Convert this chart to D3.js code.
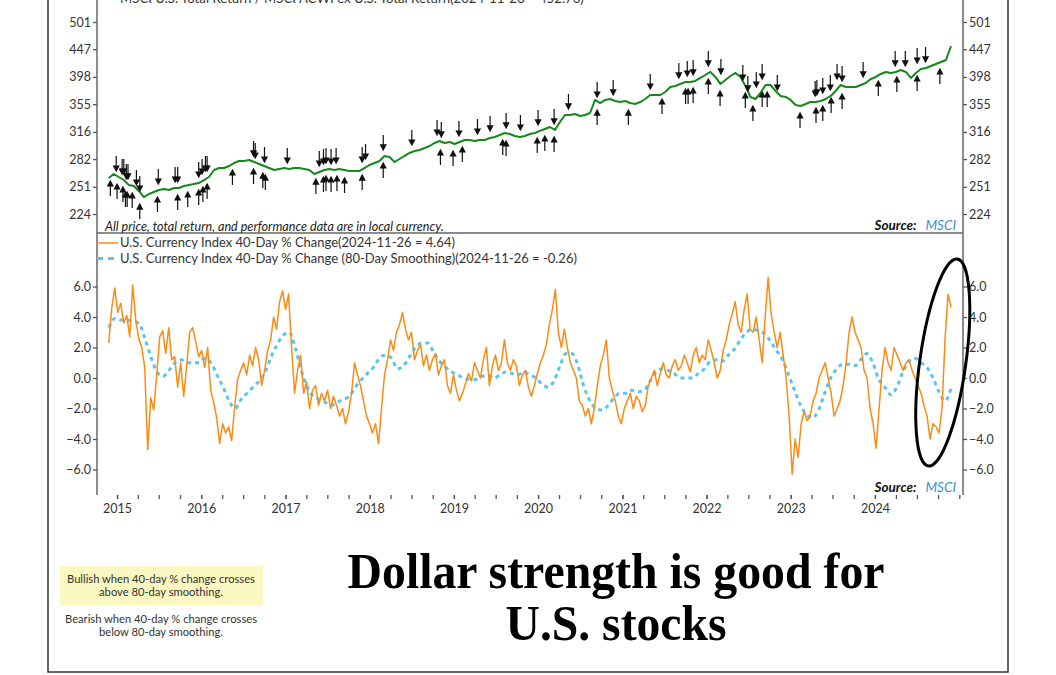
<!DOCTYPE html>
<html>
<head>
<meta charset="utf-8">
<script src="https://cdn.jsdelivr.net/npm/d3@7"></script>
<style>
  body { margin: 0; background: #fff; }
  text { font-family: Lato, 'Open Sans', sans-serif; }
</style>
</head>
<body>
<script>
// series run evenly from seriesStart to seriesEnd
var seriesStart = '2014-11-26';
var seriesEnd = '2024-11-26';

var relativeReturn = [
  260.5,264.9,261.6,258.3,253.0,251.9,246.7,240.5,243.6,245.6,247.7,248.8,247.7,249.8,249.8,251.9,253.0,254.0,255.1,258.3,
  261.6,269.4,271.6,271.6,273.9,277.4,279.7,279.7,280.9,278.6,276.2,273.9,271.6,269.4,270.5,271.6,270.5,271.6,271.6,270.5,
  269.4,264.9,267.1,269.4,270.5,269.4,270.5,269.4,268.3,268.3,268.3,271.6,275.1,277.4,279.7,285.7,284.5,278.6,282.1,285.7,
  289.3,291.7,293.0,295.4,297.9,301.7,304.2,301.7,302.9,300.4,302.9,305.5,305.5,304.2,305.5,305.5,308.1,309.4,312.0,314.6,
  313.3,310.6,309.4,310.6,313.3,314.6,317.3,319.9,322.6,318.6,329.4,339.3,339.3,340.7,337.8,339.3,342.1,361.3,356.7,361.3,
  362.8,359.8,358.2,359.8,356.7,355.3,358.2,362.8,368.9,368.9,368.9,373.6,381.5,383.1,386.4,389.6,389.6,391.3,396.2,401.2,
  406.3,397.9,386.4,392.9,399.5,404.6,397.9,383.1,365.9,362.8,372.0,384.7,384.7,375.2,367.4,365.9,361.3,353.8,352.3,355.3,
  358.2,358.2,359.8,362.8,367.4,375.2,384.7,381.5,381.5,381.5,384.7,388.0,394.5,397.9,402.9,406.3,404.6,406.3,409.7,406.3,
  396.2,404.6,411.4,413.2,416.6,420.1,423.7,427.3,452.8
];

var currencyChange = [
  2.3,4.6,5.9,4.3,4.9,3.6,4.1,2.7,6.1,3.8,2.6,2.0,0.7,-4.7,-1.3,-2.1,0.2,2.7,3.1,1.6,
  3.3,1.2,1.4,-0.6,1.0,-1.2,0.8,3.0,3.3,2.4,1.4,1.8,0.7,2.0,-0.8,-1.6,-2.6,-4.3,-3.0,-3.6,
  -3.2,-4.1,-1.9,-0.1,0.5,1.0,0.2,1.5,0.8,2.0,1.2,-0.5,0.5,1.8,2.5,4.0,3.2,5.0,5.7,4.5,
  5.5,2.0,-1.0,0.5,1.5,-1.0,-0.3,-2.0,-0.8,-0.5,-1.8,-1.0,-1.5,-0.8,-2.0,-1.2,-1.8,-2.5,-2.0,-3.0,
  -2.2,-1.0,1.0,0.2,-0.5,-1.5,-2.5,-3.0,-3.6,-3.0,-4.3,-2.0,0.2,1.2,2.5,1.8,3.0,3.5,4.3,3.2,
  2.5,3.0,1.2,1.8,2.2,0.8,1.5,0.5,1.2,1.6,0.2,0.8,1.2,-0.5,-1.0,0.2,-0.8,-1.5,-1.0,-0.4,
  0.3,-0.2,1.0,0.5,0.0,1.2,2.0,-0.5,0.8,1.5,0.5,1.0,2.5,1.0,0.5,1.2,0.8,-0.5,0.2,0.5,
  -0.6,-1.2,-0.5,0.3,1.0,1.5,2.2,3.5,4.5,5.8,3.0,2.0,3.2,2.0,1.0,0.5,0.0,-1.5,-1.8,-2.5,
  -2.0,-3.0,-2.0,-0.5,0.8,1.5,2.5,0.0,-0.8,-1.5,-2.5,-3.0,-2.0,-1.5,-1.0,-2.0,-1.2,-1.5,-2.2,-1.8,
  -0.5,0.0,0.5,-0.5,0.3,1.0,0.2,0.0,0.8,1.2,0.5,0.8,1.5,1.0,0.4,1.5,2.0,1.0,1.5,1.2,
  2.5,1.8,1.0,0.0,0.5,1.8,2.5,3.5,4.2,5.0,3.5,3.0,4.5,5.5,3.2,3.0,4.0,2.5,1.0,4.0,
  6.6,4.2,3.0,2.0,3.0,1.5,0.0,-2.5,-6.3,-4.0,-5.2,-3.0,-2.2,-2.8,-2.5,-1.5,-1.0,0.0,0.5,1.0,
  0.0,-1.0,-2.5,-2.0,-1.5,-0.5,1.0,3.0,4.0,3.0,2.5,2.0,0.5,0.0,-2.0,-3.0,-4.6,-2.0,0.5,2.0,
  1.0,0.5,2.0,1.5,1.0,0.5,1.0,1.2,0.5,0.0,-0.5,-1.0,-1.8,-2.5,-4.0,-3.0,-3.2,-3.6,-2.0,2.5,
  5.5,4.64
];

var currencySmooth = [
  3.3,3.9,3.8,3.8,3.7,3.6,2.6,1.4,0.4,0.1,0.5,1.0,1.2,1.0,1.0,1.0,1.3,1.0,0.2,-0.6,
  -1.5,-2.0,-1.4,-1.0,-0.6,-0.2,0.4,1.4,2.2,2.8,3.0,2.0,0.5,-0.6,-1.2,-1.4,-1.6,-1.8,-1.6,-1.4,
  -1.2,-0.6,-0.1,0.3,0.7,1.3,1.5,1.3,0.6,0.8,1.4,2.0,2.3,2.3,1.7,1.1,0.7,0.4,0.2,0.0,
  -0.1,-0.1,0.1,0.2,0.0,0.2,0.4,0.3,0.2,0.4,0.2,0.0,-0.4,-0.6,-0.2,0.8,1.6,1.6,0.8,-0.6,
  -1.5,-2.0,-2.1,-1.8,-1.3,-1.0,-1.0,-0.8,-0.9,-0.8,-0.2,0.4,0.6,0.5,0.3,0.0,0.0,0.0,0.3,0.6,
  1.1,1.2,1.1,1.5,1.9,2.5,3.0,3.2,3.1,2.9,2.4,1.8,1.2,0.2,-0.8,-1.8,-2.4,-2.6,-2.1,-1.0,
  0.0,0.6,0.9,0.9,0.8,1.2,1.6,1.0,-0.1,-0.6,-1.1,-0.6,0.4,1.1,1.3,1.0,0.7,0.0,-0.9,-1.5,
  -0.7
];

var ratioTicks = [224, 251, 282, 316, 355, 398, 447, 501];
var changeTicks = [-6, -4, -2, 0, 2, 4, 6];
var yearTicks = [2015, 2016, 2017, 2018, 2019, 2020, 2021, 2022, 2023, 2024];

// crossing signals, decimal years
var bullishYears = [
  2014.92,2015.00,2015.07,2015.10,2015.12,2015.18,2015.27,2015.48,2015.72,2015.84,2015.97,2016.02,2016.07,
  2016.37,2016.62,2016.73,2016.76,2017.36,2017.45,2017.48,2017.54,2017.61,2017.70,2017.91,2018.16,
  2018.84,2018.99,2019.10,2019.58,2019.62,2019.99,2020.08,2020.19,2020.70,2021.07,2021.47,2021.75,
  2021.78,2021.84,2022.02,2022.16,2022.46,2022.55,2022.66,2022.72,2023.11,2023.30,2023.38,2023.48,
  2023.61,2024.04,2024.26,2024.50,2024.77
];
var bearishYears = [
  2014.99,2015.06,2015.08,2015.11,2015.13,2015.23,2015.27,2015.49,2015.69,2015.72,2015.97,2016.01,2016.05,
  2016.07,2016.62,2016.64,2016.75,2017.02,2017.40,2017.45,2017.48,2017.54,2017.60,2017.91,2017.95,
  2018.16,2018.50,2018.80,2018.85,2019.06,2019.28,2019.43,2019.62,2019.79,2020.00,2020.19,2020.36,
  2020.70,2020.89,2021.33,2021.67,2021.77,2021.84,2022.02,2022.17,2022.43,2022.49,2022.59,2022.66,
  2022.84,2023.29,2023.31,2023.38,2023.47,2023.55,2023.61,2023.86,2024.24,2024.36,2024.50,2024.60
];

// ends of the highlight ring: [decimal year, % change]
var ringEnds = [[2024.976, 7.8], [2024.632, -5.77]];

var topLegend = 'MSCI U.S. Total Return / MSCI ACWI ex U.S. Total Return(2024-11-26 = 452.76)';
var changeLegend = ['U.S. Currency Index 40-Day % Change(2024-11-26 = 4.64)',
                    'U.S. Currency Index 40-Day % Change (80-Day Smoothing)(2024-11-26 = -0.26)'];

function yearToDate(y){
  var yr = Math.floor(y);
  var s = new Date(yr, 0, 1), e = new Date(yr + 1, 0, 1);
  return new Date(+s + (y - yr) * (e - s));
}

function spread(values){
  var t0 = new Date(seriesStart + 'T00:00:00'), t1 = new Date(seriesEnd + 'T00:00:00');
  var step = (t1 - t0) / (values.length - 1);
  return values.map(function(v, i){ return { date: new Date(+t0 + i * step), value: v }; });
}

var initialize = function(){
  var screen = { width: 1056, height: 675 };
  var plot = { left: 97, right: 963, top: -20, split: 233, bottom: 495 };

  var svg = d3.select('body')
              .append('svg')
              .attr('width', screen.width)
              .attr('height', screen.height);

  var defs = svg.append('defs');
  defs.append('clipPath').attr('id', 'clipTop')
      .append('rect').attr('x', plot.left).attr('y', plot.top)
      .attr('width', plot.right - plot.left).attr('height', plot.split - plot.top);
  defs.append('clipPath').attr('id', 'clipBottom')
      .append('rect').attr('x', plot.left).attr('y', plot.split)
      .attr('width', plot.right - plot.left).attr('height', plot.bottom - plot.split);

  // outer frame
  svg.append('rect')
     .attr('x', 48).attr('y', -10)
     .attr('width', 960).attr('height', 682)
     .attr('fill', 'none').attr('stroke', '#333').attr('stroke-width', 1.5);

  var xScale = d3.scaleTime()
                 .domain([new Date(2014, 9, 6), new Date(2025, 0, 17)])
                 .range([plot.left, plot.right]);
  var yTop = d3.scaleLog()
               .domain([224, 501])
               .range([214, 22]);
  var yBottom = d3.scaleLinear()
                  .domain([-6, 6])
                  .range([469.5, 286.5]);

  var ratioData = spread(relativeReturn);
  var changeData = spread(currencyChange);
  var smoothData = spread(currencySmooth);

  // TOP PANEL //
  var drawRatio = d3.line()
                    .x(function(d){ return xScale(d.date); })
                    .y(function(d){ return yTop(d.value); });

  svg.append('g')
     .attr('clip-path', 'url(#clipTop)')
     .append('path')
     .datum(ratioData)
     .attr('d', drawRatio)
     .attr('fill', 'none')
     .attr('stroke', '#16881a')
     .attr('stroke-width', 2)
     .attr('stroke-linejoin', 'round');

  var bisect = d3.bisector(function(d){ return d.date; }).left;
  function ratioAt(date){
    var i = Math.min(ratioData.length - 1, Math.max(0, bisect(ratioData, date)));
    return ratioData[i].value;
  }

  function arrowPath(x, tip, dir){
    // dir = -1 points up, 1 points down
    var tail = tip - dir * 15, head = tip - dir * 5;
    return 'M' + x + ',' + tail + 'L' + x + ',' + head +
           'M' + (x - 2.6) + ',' + head + 'L' + (x + 2.6) + ',' + head + 'L' + x + ',' + tip + 'Z';
  }

  var arrows = svg.append('g').attr('clip-path', 'url(#clipTop)');
  arrows.selectAll('path.down')
        .data(bearishYears)
        .enter()
        .append('path')
        .attr('d', function(d){
          var dt = yearToDate(d);
          return arrowPath(xScale(dt), yTop(ratioAt(dt)) - 6, 1);
        })
        .attr('stroke', '#111').attr('stroke-width', 1.2).attr('fill', '#111');
  arrows.selectAll('path.up')
        .data(bullishYears)
        .enter()
        .append('path')
        .attr('d', function(d){
          var dt = yearToDate(d);
          return arrowPath(xScale(dt), yTop(ratioAt(dt)) + 7, -1);
        })
        .attr('stroke', '#111').attr('stroke-width', 1.2).attr('fill', '#111');

  svg.append('g')
     .attr('transform', 'translate(' + plot.left + ',0)')
     .call(d3.axisLeft(yTop).tickValues(ratioTicks).tickFormat(d3.format('d')).tickSize(4).tickPadding(2))
     .call(styleAxis);
  svg.append('g')
     .attr('transform', 'translate(' + plot.right + ',0)')
     .call(d3.axisRight(yTop).tickValues(ratioTicks).tickFormat(d3.format('d')).tickSize(4).tickPadding(2))
     .call(styleAxis);

  svg.append('line')
     .attr('x1', plot.left).attr('x2', plot.right)
     .attr('y1', plot.split).attr('y2', plot.split)
     .attr('stroke', '#666').attr('stroke-width', 1.5);
  svg.append('line')
     .attr('x1', plot.left).attr('x2', plot.left)
     .attr('y1', plot.top).attr('y2', plot.bottom)
     .attr('stroke', '#666').attr('stroke-width', 1.5);
  svg.append('line')
     .attr('x1', plot.right).attr('x2', plot.right)
     .attr('y1', plot.top).attr('y2', plot.bottom)
     .attr('stroke', '#666').attr('stroke-width', 1.5);

  // the header legend sits mostly above the visible page, as in the source image
  svg.append('text')
     .attr('x', 120).attr('y', 3)
     .attr('font-size', 13.2).attr('fill', '#333')
     .text(topLegend);

  svg.append('text')
     .attr('x', 105).attr('y', 231)
     .attr('font-size', 12.6).attr('font-style', 'italic').attr('fill', '#222')
     .text('All price, total return, and performance data are in local currency.');

  function sourceNote(y){
    var t = svg.append('text')
               .attr('x', 956).attr('y', y)
               .attr('text-anchor', 'end')
               .attr('font-size', 13.5).attr('font-style', 'italic');
    t.append('tspan').attr('fill', '#111').attr('font-weight', 'bold').text('Source:');
    t.append('tspan').attr('fill', '#3d8fd1').attr('dx', 9).text('MSCI');
  }
  sourceNote(230);
  sourceNote(492);

  // BOTTOM PANEL //
  var drawChange = d3.line()
                     .x(function(d){ return xScale(d.date); })
                     .y(function(d){ return yBottom(d.value); });
  var drawSmooth = d3.line()
                     .curve(d3.curveMonotoneX)
                     .x(function(d){ return xScale(d.date); })
                     .y(function(d){ return yBottom(d.value); });

  var lower = svg.append('g').attr('clip-path', 'url(#clipBottom)');
  lower.append('path')
       .datum(smoothData)
       .attr('d', drawSmooth)
       .attr('fill', 'none')
       .attr('stroke', '#5bc3f2')
       .attr('stroke-width', 3)
       .attr('stroke-dasharray', '4,4');
  lower.append('path')
       .datum(changeData)
       .attr('d', drawChange)
       .attr('fill', 'none')
       .attr('stroke', '#ff8a12')
       .attr('stroke-width', 1.5)
       .attr('stroke-linejoin', 'round');

  svg.append('g')
     .attr('transform', 'translate(' + plot.left + ',0)')
     .call(d3.axisLeft(yBottom).tickValues(changeTicks).tickFormat(d3.format('.1f')).tickSize(4).tickPadding(2))
     .call(styleAxis);
  svg.append('g')
     .attr('transform', 'translate(' + plot.right + ',0)')
     .call(d3.axisRight(yBottom).tickValues(changeTicks).tickFormat(d3.format('.1f')).tickSize(4).tickPadding(2))
     .call(styleAxis);

  var quarters = d3.timeMonth.every(3).range(xScale.domain()[0], xScale.domain()[1]);
  svg.append('g')
     .attr('transform', 'translate(0,' + plot.bottom + ')')
     .call(d3.axisBottom(xScale).tickValues(quarters).tickFormat('').tickSize(4))
     .call(styleAxis);
  svg.append('g')
     .attr('transform', 'translate(0,' + plot.bottom + ')')
     .call(d3.axisBottom(xScale)
             .tickValues(yearTicks.map(function(y){ return new Date(y, 0, 1); }))
             .tickFormat(d3.timeFormat('%Y')).tickSize(4).tickPadding(5))
     .call(styleAxis);

  // legend
  svg.append('line')
     .attr('x1', 97).attr('x2', 118).attr('y1', 243).attr('y2', 243)
     .attr('stroke', '#ff8a12').attr('stroke-width', 1.5);
  svg.append('line')
     .attr('x1', 97).attr('x2', 118).attr('y1', 258.5).attr('y2', 258.5)
     .attr('stroke', '#5bc3f2').attr('stroke-width', 3).attr('stroke-dasharray', '6,5');
  svg.selectAll('text.legend')
     .data(changeLegend)
     .enter()
     .append('text')
     .attr('x', 120)
     .attr('y', function(d, i){ return 247 + i * 15.5; })
     .attr('font-size', 13).attr('fill', '#333')
     .text(function(d){ return d; });

  // highlight ring
  var p0 = [xScale(yearToDate(ringEnds[0][0])), yBottom(ringEnds[0][1])];
  var p1 = [xScale(yearToDate(ringEnds[1][0])), yBottom(ringEnds[1][1])];
  var ringLength = Math.hypot(p0[0] - p1[0], p0[1] - p1[1]);
  var ringAngle = Math.atan2(p0[0] - p1[0], p1[1] - p0[1]) * 180 / Math.PI;
  svg.append('ellipse')
     .attr('cx', 0).attr('cy', 0)
     .attr('rx', 23).attr('ry', ringLength / 2)
     .attr('transform', 'translate(' + ((p0[0] + p1[0]) / 2) + ',' + ((p0[1] + p1[1]) / 2) + ') rotate(' + ringAngle + ')')
     .attr('fill', 'none').attr('stroke', '#000').attr('stroke-width', 3);

  // NOTES //
  svg.append('rect')
     .attr('x', 60).attr('y', 566).attr('width', 203).attr('height', 39)
     .attr('fill', '#fbf7c0');
  var notes = [['Bullish when 40-day % change crosses', 'above 80-day smoothing.'],
               ['Bearish when 40-day % change crosses', 'below 80-day smoothing.']];
  notes.forEach(function(pair, k){
    pair.forEach(function(line, j){
      svg.append('text')
         .attr('x', 161).attr('y', 583 + k * 40 + j * 13)
         .attr('text-anchor', 'middle')
         .attr('font-size', 11.2).attr('fill', '#333')
         .text(line);
    });
  });

  var title = [['Dollar strength is good for', 537], ['U.S. stocks', 221]];
  svg.selectAll('text.title')
     .data(title)
     .enter()
     .append('text')
     .attr('x', 616)
     .attr('y', function(d, i){ return 588 + i * 52; })
     .attr('text-anchor', 'middle')
     .attr('textLength', function(d){ return d[1]; })
     .attr('lengthAdjust', 'spacingAndGlyphs')
     .style('font-family', "'Liberation Serif', 'Times New Roman', serif")
     .attr('font-weight', 'bold')
     .attr('font-size', 50)
     .attr('fill', '#000')
     .text(function(d){ return d[0]; });
};

function styleAxis(g){
  g.select('.domain').remove();
  g.selectAll('.tick line').attr('stroke', '#555').attr('stroke-width', 1.3);
  g.selectAll('.tick text')
   .attr('fill', '#333')
   .style('font-family', 'Lato, sans-serif')
   .style('font-size', '12.5px');
}

initialize();
</script>
</body>
</html>
